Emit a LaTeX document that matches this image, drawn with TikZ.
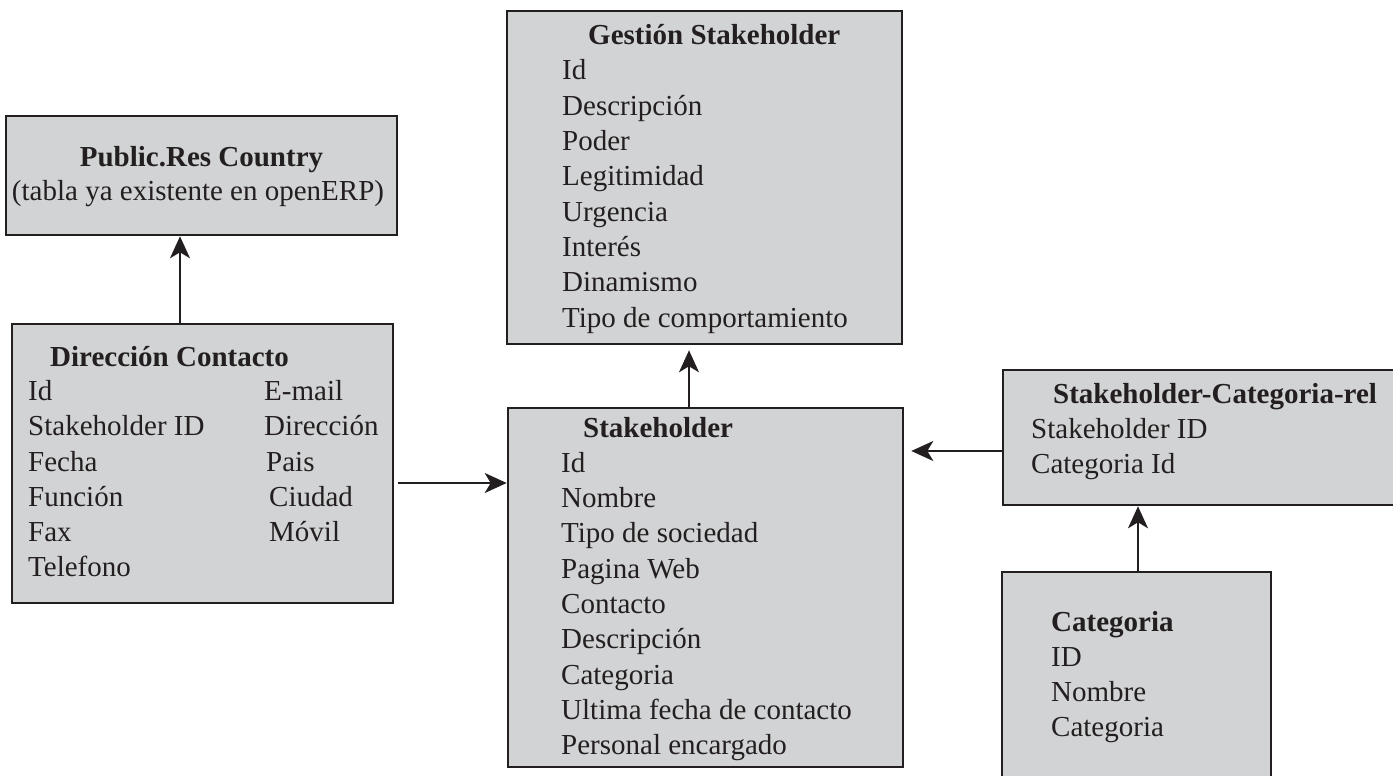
\documentclass[tikz,border=0pt]{standalone}
\usepackage{fontspec}
\setmainfont{Liberation Serif}
\usetikzlibrary{arrows.meta}
\definecolor{ink}{RGB}{35,31,32}
\definecolor{tblfill}{RGB}{209,211,212}
\tikzset{
  tbl/.style={draw=ink, fill=tblfill, line width=2.6pt, inner sep=0pt},
  fld/.style={anchor=base west, inner sep=0pt, text=ink,
    font=\fontsize{29}{35}\selectfont},
  ttl/.style={fld, font=\fontsize{29}{35}\selectfont\bfseries},
  arr/.style={-{Stealth[length=22pt,width=20pt,inset=6pt]}, line width=2pt, draw=ink},
}
\begin{document}
\begin{tikzpicture}[x=1pt,y=-1pt]
  \useasboundingbox (0,0) rectangle (1393,776);

  % tables
  \node[tbl, minimum width=391pt, minimum height=119pt] (pub) at (201.5,175.5) {};
  \node[tbl, minimum width=395pt, minimum height=333pt] (ges) at (704.5,177.5) {};
  \node[tbl, minimum width=381pt, minimum height=279pt] (dir) at (202.5,463.5) {};
  \node[tbl, minimum width=395pt, minimum height=359pt] (sh) at (705.5,587.5) {};
  \node[tbl, minimum width=393pt, minimum height=135pt] (rel) at (1199.5,437.5) {};
  \node[tbl, minimum width=269pt, minimum height=218pt] (cat) at (1136.5,681) {};

  % Public.Res Country
  \node[ttl, anchor=base] (pubt) at (201.5,166) {Public.Res Country};
  \node[fld, anchor=base] (pubn) at (198,200) {(tabla ya existente en openERP)};

  % Gestion Stakeholder
  \node[ttl] (gest) at (588,45) {Gestión Stakeholder};
  \node[fld] (ges1) at (562,80) {Id};
  \node[fld] (ges2) at (562,115.3) {Descripción};
  \node[fld] (ges3) at (562,150.6) {Poder};
  \node[fld] (ges4) at (562,185.9) {Legitimidad};
  \node[fld] (ges5) at (562,221.2) {Urgencia};
  \node[fld] (ges6) at (562,256.5) {Interés};
  \node[fld] (ges7) at (562,291.8) {Dinamismo};
  \node[fld] (ges8) at (562,327.1) {Tipo de comportamiento};

  % Direccion Contacto
  \node[ttl] (dirt) at (50,366) {Dirección Contacto};
  \node[fld] (dir1) at (28,400.7) {Id};
  \node[fld] (dir2) at (28,435.9) {Stakeholder ID};
  \node[fld] (dir3) at (28,471.1) {Fecha};
  \node[fld] (dir4) at (28,506.3) {Función};
  \node[fld] (dir5) at (28,541.5) {Fax};
  \node[fld] (dir6) at (28,576.7) {Telefono};
  \node[fld] (dir7) at (264,400.7) {E-mail};
  \node[fld] (dir8) at (264,435.9) {Dirección};
  \node[fld] (dir9) at (266,471.1) {Pais};
  \node[fld] (dir10) at (269,506.3) {Ciudad};
  \node[fld] (dir11) at (269,541.5) {Móvil};

  % Stakeholder
  \node[ttl] (sht) at (583,437) {Stakeholder};
  \node[fld] (sh1) at (561,472.3) {Id};
  \node[fld] (sh2) at (561,507.6) {Nombre};
  \node[fld] (sh3) at (561,542.9) {Tipo de sociedad};
  \node[fld] (sh4) at (561,578.2) {Pagina Web};
  \node[fld] (sh5) at (561,613.5) {Contacto};
  \node[fld] (sh6) at (561,648.8) {Descripción};
  \node[fld] (sh7) at (561,684.1) {Categoria};
  \node[fld] (sh8) at (561,719.4) {Ultima fecha de contacto};
  \node[fld] (sh9) at (561,754.7) {Personal encargado};

  % Stakeholder-Categoria-rel
  \node[ttl] (relt) at (1053,403) {Stakeholder-Categoria-rel};
  \node[fld] (rel1) at (1031,438) {Stakeholder ID};
  \node[fld] (rel2) at (1031,473) {Categoria Id};

  % Categoria
  \node[ttl] (catt) at (1051,631) {Categoria};
  \node[fld] (cat1) at (1051,666.5) {ID};
  \node[fld] (cat2) at (1051,701.5) {Nombre};
  \node[fld] (cat3) at (1051,736.5) {Categoria};

  % relations
  \coordinate (a1) at ([xshift=-22.5pt]dir.north);
  \draw[arr] (a1) -- (a1 |- pub.south);
  \coordinate (a2) at ([xshift=4pt,yshift=-19.5pt]dir.east);
  \draw[arr] (a2) -- (a2 -| sh.west);
  \coordinate (a3) at ([xshift=-16.5pt]sh.north);
  \draw[arr, shorten >=5pt] (a3) -- (a3 |- ges.south);
  \coordinate (a4) at ([yshift=-13.5pt]rel.west);
  \draw[arr, shorten >=7pt] (a4) -- (a4 -| sh.east);
  \coordinate (a5) at ([xshift=1.5pt]cat.north);
  \draw[arr] (a5) -- (a5 |- rel.south);
\end{tikzpicture}
\end{document}
